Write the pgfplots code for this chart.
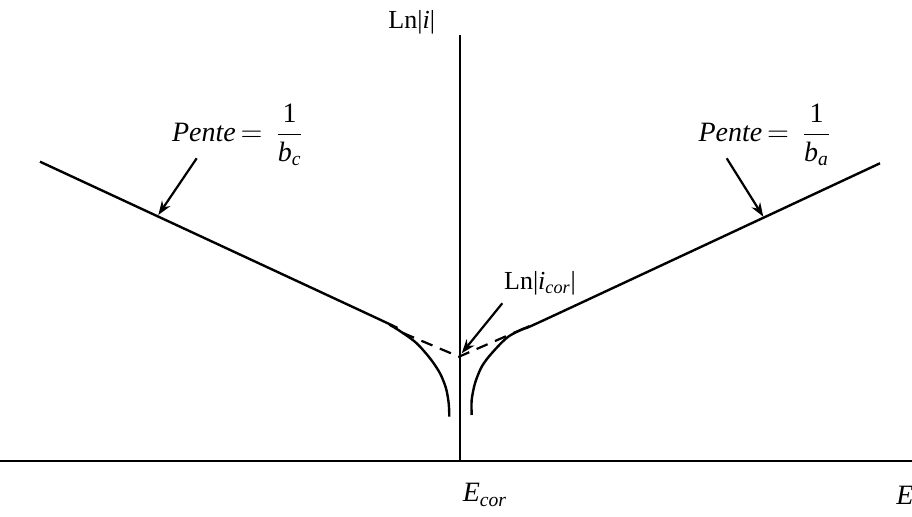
\documentclass[border=0pt]{standalone}
\usepackage{fontspec}
\setmainfont{Liberation Serif}
\usepackage{amsmath}
\usepackage{pgfplots}
\pgfplotsset{compat=1.18}
\usetikzlibrary{arrows.meta}
\tikzset{
  lbl/.style={font=\fontsize{13}{15}\selectfont,inner sep=0pt},
  arr/.style={line width=1.1pt,-{Stealth[length=7pt,width=5pt]}}}

\begin{document}
\begin{tikzpicture}
\begin{axis}[x=0.5pt,y=0.5pt,xmin=0,xmax=912,ymin=0,ymax=517,hide axis,clip=false]
% axes
\addplot[black,line width=1.4pt] coordinates {(0,56) (912,56)};
\addplot[black,line width=1.4pt] coordinates {(460,56) (460,482)};
% cathodic branch
\addplot[black,line width=1.2pt,smooth,tension=0.5] coordinates {
(40,355.3) (370,202) (390,192) (403.3,183.7) (416.7,173.7) (430,158.7)
(440,143.7) (446,128.7) (448.7,113.7) (449.3,100.3)};
% anodic branch
\addplot[black,line width=1.2pt,smooth,tension=0.5] coordinates {
(880,353.7) (555,202) (528.3,190.3) (508.3,180.3) (491.7,163.7) (481.7,150.3)
(475,133.7) (471.7,117) (471.7,102)};
% Tafel extrapolations
\addplot[black,line width=1.1pt,dash pattern=on 6pt off 4pt] coordinates {(403,184) (459,160.3) (528,190.3)};
% labels
\node[lbl] at (axis cs:411.7,494.3) {Ln|\textit{i}|};
\node[lbl,font=\fontsize{14}{16}\selectfont] at (axis cs:238,382) {\textit{Pente}$\,=\,\dfrac{\text{1}}{\textit{b}_{\textit{c}}}$};
\node[lbl,font=\fontsize{14}{16}\selectfont] at (axis cs:765,382) {\textit{Pente}$\,=\,\dfrac{\text{1}}{\textit{b}_{\textit{a}}}$};
\node[lbl] at (axis cs:540,233.7) {Ln|\textit{i}$_{\textit{cor}}$|};
\node[lbl,font=\fontsize{14}{16}\selectfont] at (axis cs:485,22) {\textit{E}$_{\textit{cor}}$};
\node[lbl,font=\fontsize{14}{16}\selectfont,anchor=west] at (axis cs:896,22) {\textit{E}};
% arrows
\draw[arr] (axis cs:196.7,358.7) -- (axis cs:158.3,302);
\draw[arr] (axis cs:726.7,358.7) -- (axis cs:763.3,300.3);
\draw[arr] (axis cs:502.3,213.7) -- (axis cs:461.7,163.7);
\coordinate (sw) at (axis cs:0,0);
\coordinate (ne) at (axis cs:912,517);
\end{axis}
\pgfresetboundingbox
\path (sw) rectangle (ne);
\end{tikzpicture}
\end{document}
